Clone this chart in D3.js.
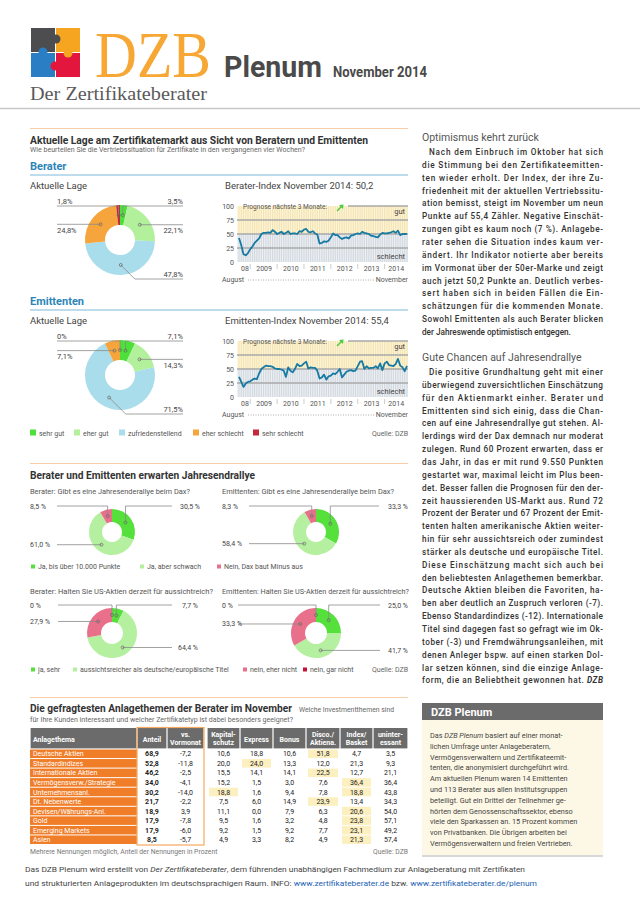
<!DOCTYPE html>
<html><head><meta charset="utf-8">
<script src="https://cdn.jsdelivr.net/npm/d3@7"></script>
<style>body{margin:0;background:#fff}svg{display:block}text{white-space:pre}</style>
</head><body><svg id="page" width="640" height="906"></svg>
<script>
// ---------------- DATA ----------------
const lageCategories = ["sehr gut","eher gut","zufriedenstellend","eher schlecht","sehr schlecht"];
const lageBerater    = [3.5, 22.1, 47.8, 24.8, 1.8];
const lageEmittenten = [7.1, 14.3, 71.5, 7.1, 0];

// monthly index values, August 2008 ... November 2014
const beraterIndex = [43,30,14,12,16,23,28,34,38,42,50,52,52,53,52,57,54,50,52,54,50,52,55,50,51,51,50,55,54,58,59,54,53,55,51,49,33,34,37,36,38,44,51,48,48,44,41,43,44,42,47,48,50,51,50,54,52,51,50,47,46,45,44,49,52,51,51,52,53,55,52,56,48,50,50,50.2];
const emittentenIndex = [36,27,18,24,27,28,31,33,32,42,50,53,56,55,55,54,51,50,50,49,47,36,53,47,44,50,59,55,56,60,63,51,53,52,52,47,33,35,40,31,37,38,42,41,45,50,35,40,45,47,48,46,47,55,63,64,50,55,51,52,52,55,51,60,48,60,63,57,56,55,59,68,56,53,46,55.4];
const yearLabels = ["08","2009","2010","2011","2012","2013","2014"];
const yTicks = [0,25,50,75,100];

const rallyCategories = ["Ja, bis über 10.000 Punkte","Ja, aber schwach","Nein, Dax baut Minus aus"];
const rallyBerater    = [30.5, 61.0, 8.5];
const rallyEmittenten = [33.3, 58.4, 8.3];

const usCategories = ["ja, sehr","aussichtsreicher als deutsche/europäische Titel","nein, eher nicht","nein, gar nicht"];
const usBerater    = [7.7, 64.4, 27.9, 0];
const usEmittenten = [25.0, 41.7, 33.3, 0];

const themes = ["Deutsche Aktien","Standardindizes","Internationale Aktien","Vermögensverw./Strategie","Unternehmensanl.","Dt. Nebenwerte","Devisen/Währungs-Anl.","Gold","Emerging Markets","Asien"];
const anteil        = [68.9,52.8,46.2,34.0,30.2,21.7,18.9,17.9,17.9,8.5];
const vsVormonat    = [-7.2,-11.8,-2.5,-4.1,-14.0,-2.2,3.9,-7.8,-6.0,-5.7];
const kapitalschutz = [10.6,20.0,15.5,15.2,18.8,7.5,11.1,9.5,9.2,4.9];
const express       = [18.8,24.0,14.1,1.5,1.6,6.0,0.0,1.6,1.5,3.3];
const bonus         = [10.6,13.3,14.1,3.0,9.4,14.9,7.9,3.2,9.2,8.2];
const disco         = [51.8,12.0,22.5,7.6,7.8,23.9,6.3,4.8,7.7,4.9];
const indexBasket   = [4.7,21.3,12.7,36.4,18.8,13.4,20.6,23.8,23.1,21.3];
const uninteressant = [3.5,9.3,21.1,36.4,43.8,34.3,54.0,57.1,49.2,57.4];
const tableHeaders = ["Anlagethema","Anteil","vs.|Vormonat","Kapital-|schutz","Express","Bonus","Disco./|Aktiena.","Index/|Basket","uninter-|essant"];

// ---------------- STYLE ----------------
const F = "Roboto, 'Open Sans', sans-serif";
const lageColors  = ["#4ee03a","#b3f09c","#a9ddeb","#f5a53c","#c3283c"];
const rallyColors = ["#55e03c","#b5f0a0","#e8708a"];
const usColors    = ["#55e03c","#b5f0a0","#e8708a","#c8103a"];
const fmtNum = v => v.toFixed(1).replace(".", ",");

const svg = d3.select("#page");
svg.append("rect").attr("width",640).attr("height",906).attr("fill","#fff");

function T(g, x, y, s, o = {}) {
  const t = g.append("text").attr("x", x).attr("y", y)
    .attr("font-size", o.size || 8).attr("fill", o.fill || "#333")
    .attr("font-weight", o.weight || 400)
    .attr("font-family", o.family || F)
    .attr("text-anchor", o.anchor || "start");
  if (o.italic) t.attr("font-style", "italic");
  if (o.width) t.attr("textLength", o.width).attr("lengthAdjust", o.adjust || "spacingAndGlyphs");
  t.text(s);
  return t;
}
function P(g, x, y, parts, o = {}) {
  const t = g.append("text").attr("x", x).attr("y", y)
    .attr("font-size", o.size || 8).attr("fill", o.fill || "#333")
    .attr("font-weight", o.weight || 400).attr("font-family", F);
  parts.forEach(p => {
    const ts = t.append("tspan").text(p.t);
    if (p.i) ts.attr("font-style", "italic");
    if (p.b) ts.attr("font-weight", 700);
    if (p.c) ts.attr("fill", p.c);
  });
  if (o.width) t.attr("textLength", o.width).attr("lengthAdjust", o.adjust || "spacing");
  return t;
}
function hline(x0, x1, y, c, w) {
  svg.append("line").attr("x1", x0).attr("x2", x1).attr("y1", y).attr("y2", y).attr("stroke", c).attr("stroke-width", w);
}

// ---------------- HEADER ----------------
const logo = svg.append("g").attr("transform", "translate(31,28)");
const pieces = [[0,0,"#4d4d4f"],[25,0,"#f6a520"],[0,25,"#2a7ec3"],[25,25,"#e3173e"]];
pieces.forEach(p => logo.append("rect").attr("x", p[0]).attr("y", p[1]).attr("width", 24).attr("height", 24).attr("fill", p[2]));
logo.append("circle").attr("cx", 25).attr("cy", 11).attr("r", 4.5).attr("fill", "#4d4d4f");
logo.append("circle").attr("cx", 37).attr("cy", 25).attr("r", 4.5).attr("fill", "#f6a520");
logo.append("circle").attr("cx", 12).attr("cy", 24).attr("r", 4.5).attr("fill", "#2a7ec3");
logo.append("circle").attr("cx", 24).attr("cy", 38).attr("r", 4.5).attr("fill", "#e3173e");

T(svg, 95, 77, "DZB", {size: 66, fill: "#f7a734", family: "'Liberation Serif', serif", width: 116});
T(svg, 224, 77, "Plenum", {size: 30, weight: 700, fill: "#4a4a4a", width: 98});
T(svg, 333, 77, "November 2014", {size: 14, weight: 700, fill: "#4a4a4a", width: 94});
T(svg, 30, 100, "Der Zertifikateberater", {size: 18.5, fill: "#5a5a5a", family: "'Liberation Serif', serif", width: 177});
hline(0, 640, 108.5, "#c8c8c8", 1.5);

// ---------------- SECTION 1 ----------------
hline(30, 408, 128.5, "#f6cfa8", 1.2);
T(svg, 30, 144, "Aktuelle Lage am Zertifikatemarkt aus Sicht von Beratern und Emittenten", {size: 10.5, weight: 700, fill: "#333", width: 338});
T(svg, 30, 151.5, "Wie beurteilen Sie die Vertriebssituation für Zertifikate in den vergangenen vier Wochen?", {size: 6.6, fill: "#666", width: 275});

function donut(values, colors, cfg) {
  const g = svg.append("g");
  const arcs = d3.pie().sort(null).value(d => d)(values);
  const arc = d3.arc().innerRadius(cfg.ri).outerRadius(cfg.ro);
  g.append("g").attr("transform", `translate(${cfg.cx},${cfg.cy})`)
    .selectAll("path").data(arcs).join("path")
    .attr("d", arc).attr("fill", (d, i) => colors[i]);
  const rm = (cfg.ri + cfg.ro) / 2;
  arcs.forEach((d, i) => {
    const L = cfg.labels[i];
    const a = (d.endAngle === d.startAngle) ? d.startAngle : (d.startAngle + d.endAngle) / 2;
    const px = cfg.cx + rm * Math.sin(a), py = cfg.cy - rm * Math.cos(a);
    let y;
    if (L.slot === "top") y = cfg.cy - cfg.ro - cfg.topGap;
    else if (L.slot === "bottom") y = cfg.cy + cfg.ro + cfg.bottomGap;
    else y = py;
    const right = L.side === "r";
    const endX = right ? cfg.lineR : cfg.lineL;
    let pts;
    if (L.slot === "top") pts = [[px, py], [px, y], [endX, y]];
    else if (L.slot === "bottom") pts = [[px, py], [px + (y - py) * (right ? 1 : -1), y], [endX, y]];
    else pts = [[px, py], [endX, y]];
    g.append("path").attr("d", d3.line()(pts)).attr("fill", "none").attr("stroke", "#8a8a8a").attr("stroke-width", 0.8);
    g.append("circle").attr("cx", px).attr("cy", py).attr("r", 1.5).attr("fill", "none").attr("stroke", "#666").attr("stroke-width", 0.7);
    const lbl = cfg.fmt(values[i]);
    if (cfg.style === "lage") {
      const above = L.slot !== "side";
      T(g, endX, above ? y - 2.5 : y + 8.5, lbl, {size: 7.5, anchor: right ? "end" : "start", fill: "#444"});
    } else {
      T(g, right ? cfg.textR : cfg.textL, y + 2.5, lbl, {size: 7, anchor: right ? "end" : "start", fill: "#444"});
    }
  });
}
const fmtLage = v => v === 0 ? "0%" : fmtNum(v) + "%";
const fmtSp = v => v === 0 ? "0 %" : fmtNum(v) + " %";

function indexChart(values, oy, title) {
  const g = svg.append("g");
  const months = d3.timeMonth.range(new Date(2008, 7, 1), new Date(2014, 11, 1));
  const x = d3.scaleTime().domain([months[0], months[months.length - 1]]).range([239, 407]);
  const y = d3.scaleLinear().domain([0, 100]).range([262 + oy, 206 + oy]);
  T(g, 225, 189 + oy, title, {size: 9.5, fill: "#444"});
  g.append("rect").attr("x", 237).attr("y", y(100)).attr("width", 171).attr("height", y(50) - y(100)).attr("fill", "#fdf6dd");
  g.append("rect").attr("x", 237).attr("y", y(50)).attr("width", 171).attr("height", y(0) - y(50)).attr("fill", "#eef1f4");
  g.selectAll(".st").data(months).join("rect").attr("x", d => x(d) - 0.6).attr("y", y(100)).attr("width", 1.2).attr("height", y(50) - y(100)).attr("fill", "#f4e4b2");
  g.selectAll(".sb").data(months).join("rect").attr("x", d => x(d) - 0.6).attr("y", y(50)).attr("width", 1.2).attr("height", y(0) - y(50)).attr("fill", "#d3d9e0");
  [25, 50, 75].forEach(v => g.append("line").attr("x1", 237).attr("x2", 408).attr("y1", y(v)).attr("y2", y(v)).attr("stroke", "#a8a8a8").attr("stroke-width", 1.3));
  g.append("line").attr("x1", 348).attr("x2", 408).attr("y1", y(100)).attr("y2", y(100)).attr("stroke", "#a8a8a8").attr("stroke-width", 1.3);
  const ya = g.append("g").attr("transform", "translate(234,0)").call(d3.axisLeft(y).tickValues(yTicks).tickSize(0).tickPadding(0));
  ya.select(".domain").remove();
  ya.selectAll("text").attr("font-size", 7).attr("font-family", F).attr("fill", "#555");
  const labelDates = [new Date(2008, 9, 15), new Date(2009, 6, 1), new Date(2010, 6, 1), new Date(2011, 6, 1), new Date(2012, 6, 1), new Date(2013, 6, 1), new Date(2014, 5, 1)];
  const xa = g.append("g").attr("transform", `translate(0,${262 + oy})`)
    .call(d3.axisBottom(x).tickValues(labelDates).tickFormat((d, i) => yearLabels[i]).tickSize(0).tickPadding(4));
  xa.select(".domain").remove();
  xa.selectAll("text").attr("font-size", 7).attr("font-family", F).attr("fill", "#555");
  [2009, 2010, 2011, 2012, 2013, 2014].forEach(yr => {
    const xx = x(new Date(yr, 0, 1));
    g.append("line").attr("x1", xx).attr("x2", xx).attr("y1", 264 + oy).attr("y2", 269 + oy).attr("stroke", "#aaa").attr("stroke-width", 0.6);
  });
  T(g, 243, 209 + oy, "Prognose nächste 3 Monate:", {size: 6.6, fill: "#555"});
  g.append("path").attr("d", `M337,${211 + oy} L342,${206 + oy}`).attr("stroke", "#4ccc3a").attr("stroke-width", 1.4);
  g.append("path").attr("d", `M339,${205 + oy} L343.5,${204.5 + oy} L343,${209 + oy} Z`).attr("fill", "#4ccc3a");
  T(g, 405, 214 + oy, "gut", {size: 7.5, anchor: "end", fill: "#444"});
  T(g, 405, 259 + oy, "schlecht", {size: 7.5, anchor: "end", fill: "#444"});
  g.append("path").datum(values).attr("fill", "none").attr("stroke", "#177aa2").attr("stroke-width", 1.8).attr("stroke-linejoin", "round")
    .attr("d", d3.line().x((d, i) => x(months[i])).y(d => y(d)));
  T(g, 222, 282 + oy, "August", {size: 7, fill: "#555"});
  T(g, 408, 282 + oy, "November", {size: 7, fill: "#555", anchor: "end"});
  g.append("line").attr("x1", 248).attr("x2", 375).attr("y1", 280 + oy).attr("y2", 280 + oy).attr("stroke", "#999").attr("stroke-width", 0.8).attr("stroke-dasharray", "1,1.5");
}

function block(name, oy, values, idxValues, idxTitle, labels) {
  T(svg, 30, 170 + oy, name, {size: 11, weight: 700, fill: "#2b85b8"});
  hline(30, 408, 175 + oy, "#7db9d9", 1);
  T(svg, 30, 189 + oy, "Aktuelle Lage", {size: 9.5, fill: "#444"});
  donut(values, lageColors, {cx: 120, cy: 240 + oy, ri: 15, ro: 35, labels, style: "lage", lineL: 57, lineR: 183, topGap: -1, bottomGap: 4, fmt: fmtLage});
  indexChart(idxValues, oy, idxTitle);
}
block("Berater", 0, lageBerater, beraterIndex, "Berater-Index November 2014: 50,2",
  [{slot: "top", side: "r"}, {slot: "side", side: "r"}, {slot: "bottom", side: "r"}, {slot: "side", side: "l"}, {slot: "top", side: "l"}]);
block("Emittenten", 135, lageEmittenten, emittentenIndex, "Emittenten-Index November 2014: 55,4",
  [{slot: "top", side: "r"}, {slot: "side", side: "r"}, {slot: "bottom", side: "r"}, {slot: "side", side: "l"}, {slot: "top", side: "l"}]);

const lageLegX = [30, 74, 119, 193, 253];
lageCategories.forEach((c, i) => {
  svg.append("rect").attr("x", lageLegX[i]).attr("y", 429.5).attr("width", 6).attr("height", 6).attr("fill", lageColors[i]);
  T(svg, lageLegX[i] + 9, 435.5, c, {size: 7, fill: "#555"});
});
T(svg, 408, 435.5, "Quelle: DZB", {size: 7, fill: "#666", anchor: "end"});

// ---------------- SECTION 2 ----------------
hline(30, 408, 463.5, "#f6cfa8", 1.2);
T(svg, 30, 479, "Berater und Emittenten erwarten Jahresendrallye", {size: 10.5, weight: 700, fill: "#333", width: 225});
T(svg, 30, 494, "Berater: Gibt es eine Jahresenderallye beim Dax?", {size: 6.8, fill: "#555", width: 160});
T(svg, 222, 494, "Emittenten: Gibt es eine Jahresenderallye beim Dax?", {size: 6.8, fill: "#555", width: 172});

const rallyLab = [{slot: "top", side: "r"}, {slot: "side", side: "l"}, {slot: "top", side: "l"}];
donut(rallyBerater, rallyColors, {cx: 112, cy: 532, ri: 10, ro: 23, labels: rallyLab, style: "inline", lineL: 57, lineR: 172, textL: 30, textR: 200, topGap: 3, fmt: fmtSp});
donut(rallyEmittenten, rallyColors, {cx: 316, cy: 532, ri: 10, ro: 23, labels: rallyLab, style: "inline", lineL: 249, lineR: 379, textL: 222, textR: 408, topGap: 3, fmt: fmtSp});
const rallyLegX = [31, 140, 217];
rallyCategories.forEach((c, i) => {
  svg.append("rect").attr("x", rallyLegX[i]).attr("y", 564.5).attr("width", 4).attr("height", 4).attr("fill", rallyColors[i]);
  T(svg, rallyLegX[i] + 7, 569, c, {size: 7, fill: "#555"});
});

T(svg, 30, 594, "Berater: Halten Sie US-Aktien derzeit für aussichtreich?", {size: 6.8, fill: "#555", width: 183});
T(svg, 222, 594, "Emittenten: Halten Sie US-Aktien derzeit für aussichtreich?", {size: 6.8, fill: "#555", width: 187});
const usLab = [{slot: "top", side: "r"}, {slot: "side", side: "r"}, {slot: "side", side: "l"}, {slot: "top", side: "l"}];
donut(usBerater, usColors, {cx: 112, cy: 633, ri: 11, ro: 25, labels: usLab, style: "inline", lineL: 58, lineR: 172, textL: 30, textR: 198, topGap: 3, fmt: fmtSp});
donut(usEmittenten, usColors, {cx: 316, cy: 633, ri: 11, ro: 25, labels: usLab, style: "inline", lineL: 238, lineR: 380, textL: 222, textR: 408, topGap: 3, fmt: fmtSp});
const usLegX = [31, 73, 243, 303];
usCategories.forEach((c, i) => {
  svg.append("rect").attr("x", usLegX[i]).attr("y", 667.5).attr("width", 4).attr("height", 4).attr("fill", usColors[i]);
  T(svg, usLegX[i] + 7, 672, c, {size: 7, fill: "#555"});
});
T(svg, 408, 672, "Quelle: DZB", {size: 7, fill: "#666", anchor: "end"});

// ---------------- SECTION 3 : TABLE ----------------
hline(30, 408, 697.5, "#f6cfa8", 1.2);
T(svg, 30, 712, "Die gefragtesten Anlagethemen der Berater im November", {size: 10.5, weight: 700, fill: "#333", width: 262});
T(svg, 299, 712, "Welche Investmentthemen sind", {size: 6.8, fill: "#666", width: 95});
T(svg, 30, 722, "für Ihre Kunden interessant und welcher Zertifikatetyp ist dabei besonders geeignet?", {size: 6.8, fill: "#666", width: 263});

const colX = [[30,137],[137,167],[167,204],[207,240],[240,273],[273,306],[306,340],[340,373],[373,408]];
const valueCols = [anteil, vsVormonat, kapitalschutz, express, bonus, disco, indexBasket, uninteressant];
const hTop = 728, hBot = 749, rowH = 9.55;
tableHeaders.forEach((h, j) => {
  const [x0, x1] = colX[j];
  svg.append("rect").attr("x", x0 + 0.6).attr("y", hTop).attr("width", x1 - x0 - 1.2).attr("height", hBot - hTop - 0.6).attr("fill", "#6b6b6b");
  const parts = h.split("|");
  const cx = j === 0 ? x0 + 3 : (x0 + x1) / 2;
  const anc = j === 0 ? "start" : "middle";
  if (parts.length === 1) T(svg, cx, 741.5, parts[0], {size: 7, weight: 700, fill: "#fff", anchor: anc});
  else parts.forEach((p, k) => T(svg, cx, 737 + k * 8, p, {size: 7, weight: 700, fill: "#fff", anchor: anc}));
});
const prodCols = [kapitalschutz, express, bonus, disco, indexBasket];
themes.forEach((th, i) => {
  const y0 = hBot + i * rowH;
  svg.append("rect").attr("x", 30).attr("y", y0 + 0.5).attr("width", 107).attr("height", rowH - 1).attr("fill", "#f07d28");
  T(svg, 33, y0 + 7.3, th, {size: 7, fill: "#fff"});
  const mx = d3.max(prodCols, c => c[i]);
  valueCols.forEach((col, j) => {
    const [x0, x1] = colX[j + 1];
    if (j >= 2 && j <= 6 && col[i] === mx) {
      svg.append("rect").attr("x", x0 + 2).attr("y", y0 + 0.5).attr("width", x1 - x0 - 4).attr("height", rowH - 1).attr("fill", "#fcefc0");
    }
    T(svg, (x0 + x1) / 2, y0 + 7.3, fmtNum(col[i]), {size: 7, anchor: "middle", fill: "#222", weight: j === 0 ? 700 : 400});
  });
});
svg.append("rect").attr("x", 137).attr("y", 727.5).attr("width", 67).attr("height", hBot + 10 * rowH - 727.5 + 0.5).attr("fill", "none").attr("stroke", "#f5a860").attr("stroke-width", 1.2);
T(svg, 30, 854, "Mehrere Nennungen möglich, Anteil der Nennungen in Prozent", {size: 6.8, fill: "#777"});
T(svg, 408, 854, "Quelle: DZB", {size: 6.8, fill: "#777", anchor: "end"});

P(svg, 25, 872, [{t: "Das DZB Plenum wird erstellt von "}, {t: "Der Zertifikateberater", i: 1}, {t: ", dem führenden unabhängigen Fachmedium zur Anlageberatung mit Zertifikaten"}], {size: 8, fill: "#444", width: 500, adjust: "spacingAndGlyphs"});
P(svg, 25, 886, [{t: "und strukturierten Anlageprodukten im deutschsprachigen Raum. INFO: "}, {t: "www.zertifikateberater.de", c: "#1a5fb4"}, {t: " bzw. "}, {t: "www.zertifikateberater.de/plenum", c: "#1a5fb4"}], {size: 8, fill: "#444", width: 512, adjust: "spacingAndGlyphs"});

// ---------------- RIGHT COLUMN ----------------
const para1 = [
  "Nach dem Einbruch im Oktober hat sich",
  "die Stimmung bei den Zertifikateemitten-",
  "ten wieder erholt. Der Index, der ihre Zu-",
  "friedenheit mit der aktuellen Vertriebssitu-",
  "ation bemisst, steigt im November um neun",
  "Punkte auf 55,4 Zähler. Negative Einschät-",
  "zungen gibt es kaum noch (7 %). Anlagebe-",
  "rater sehen die Situation indes kaum ver-",
  "ändert. Ihr Indikator notierte aber bereits",
  "im Vormonat über der 50er-Marke und zeigt",
  "auch jetzt 50,2 Punkte an. Deutlich verbes-",
  "sert haben sich in beiden Fällen die Ein-",
  "schätzungen für die kommenden Monate.",
  "Sowohl Emittenten als auch Berater blicken",
  "der Jahreswende optimistisch entgegen."];
const para2 = [
  "Die positive Grundhaltung geht mit einer",
  "überwiegend zuversichtlichen Einschätzung",
  "für den Aktienmarkt einher. Berater und",
  "Emittenten sind sich einig, dass die Chan-",
  "cen auf eine Jahresendrallye gut stehen. Al-",
  "lerdings wird der Dax demnach nur moderat",
  "zulegen. Rund 60 Prozent erwarten, dass er",
  "das Jahr, in das er mit rund 9.550 Punkten",
  "gestartet war, maximal leicht im Plus been-",
  "det. Besser fallen die Prognosen für den der-",
  "zeit haussierenden US-Markt aus. Rund 72",
  "Prozent der Berater und 67 Prozent der Emit-",
  "tenten halten amerikanische Aktien weiter-",
  "hin für sehr aussichtsreich oder zumindest",
  "stärker als deutsche und europäische Titel.",
  "Diese Einschätzung macht sich auch bei",
  "den beliebtesten Anlagethemen bemerkbar.",
  "Deutsche Aktien bleiben die Favoriten, ha-",
  "ben aber deutlich an Zuspruch verloren (-7).",
  "Ebenso Standardindizes (-12). Internationale",
  "Titel sind dagegen fast so gefragt wie im Ok-",
  "tober (-3) und Fremdwährungsanleihen, mit",
  "denen Anleger bspw. auf einen starken Dol-",
  "lar setzen können, sind die einzige Anlage-",
  "form, die an Beliebtheit gewonnen hat. |DZB"];
const LH = 12.85;
const bodyOpt = {size: 8.2, fill: "#333", weight: 500};
T(svg, 422, 141, "Optimismus kehrt zurück", {size: 10.5, fill: "#555"});
para1.forEach((l, i) => {
  const ind = i === 0 ? 7 : 0;
  const last = i === para1.length - 1;
  P(svg, 422 + ind, 155 + i * LH, [{t: l}], Object.assign({}, bodyOpt, last ? {} : {width: 181 - ind}));
});
T(svg, 422, 361, "Gute Chancen auf Jahresendrallye", {size: 10.5, fill: "#555"});
para2.forEach((l, i) => {
  const ind = i === 0 ? 7 : 0;
  const parts = l.split("|");
  const arr = parts.length > 1 ? [{t: parts[0]}, {t: parts[1], i: 1, b: 1}] : [{t: l}];
  P(svg, 422 + ind, 375 + i * LH, arr, Object.assign({}, bodyOpt, {width: 181 - ind}));
});

svg.append("rect").attr("x", 422).attr("y", 855).attr("width", 181).attr("height", 2).attr("fill", "#d8d8d8");
svg.append("rect").attr("x", 422).attr("y", 720).attr("width", 181).attr("height", 135).attr("fill", "#fdf8e6");
svg.append("rect").attr("x", 422).attr("y", 703).attr("width", 181).attr("height", 17).attr("fill", "#6b6b6b");
T(svg, 431, 716, "DZB Plenum", {size: 11, weight: 700, fill: "#fff"});
const boxLines = [
  [{t: "Das "}, {t: "DZB Plenum", i: 1}, {t: " basiert auf einer monat-"}],
  [{t: "lichen Umfrage unter Anlageberatern,"}],
  [{t: "Vermögensverwaltern und Zertifikateemit-"}],
  [{t: "tenten, die anonymisiert durchgeführt wird."}],
  [{t: "Am aktuellen Plenum waren 14 Emittenten"}],
  [{t: "und 113 Berater aus allen Institutsgruppen"}],
  [{t: "beteiligt. Gut ein Drittel der Teilnehmer ge-"}],
  [{t: "hörten dem Genossenschaftssektor, ebenso"}],
  [{t: "viele den Sparkassen an. 15 Prozent kommen"}],
  [{t: "von Privatbanken. Die Übrigen arbeiten bei"}],
  [{t: "Vermögensverwaltern und freien Vertrieben."}]];
boxLines.forEach((l, i) => P(svg, 430, 738 + i * 10.8, l, {size: 7.3, fill: "#444"}));
</script></body></html>
